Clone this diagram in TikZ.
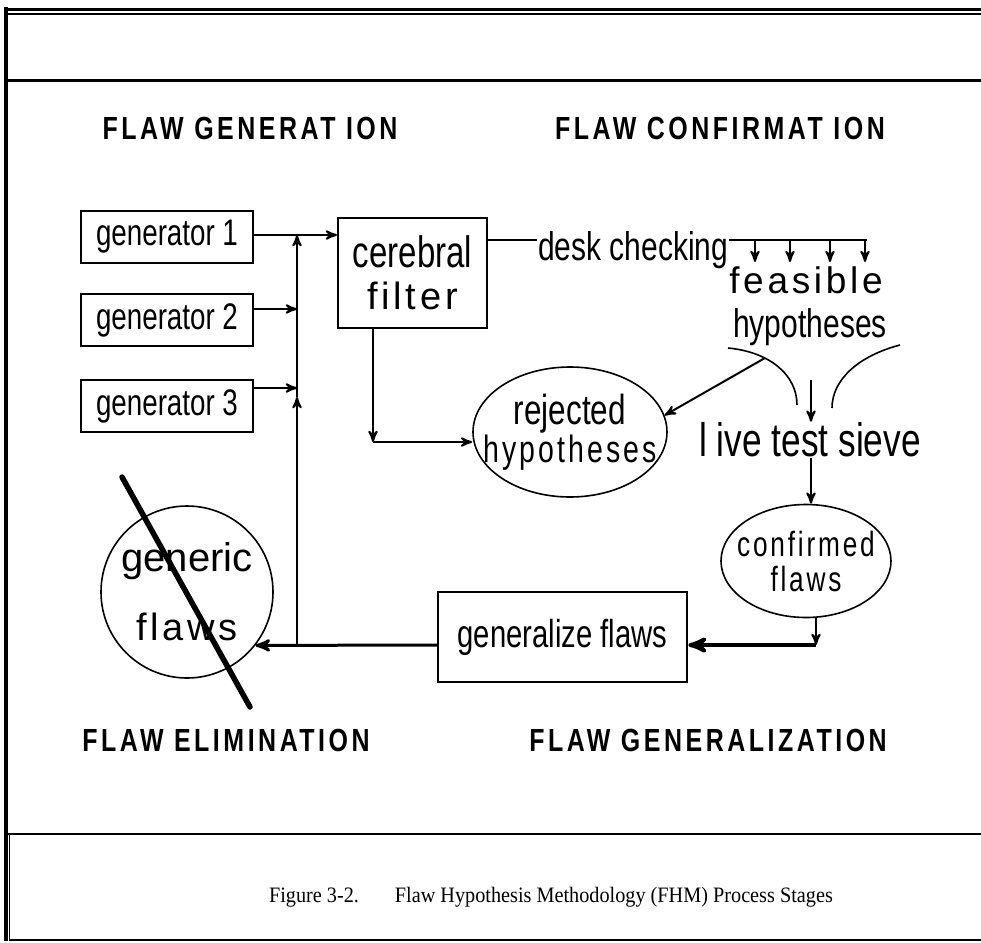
\documentclass[tikz,border=0pt]{standalone}
\usepackage{fontspec}
\setmainfont{Liberation Serif}
\setsansfont{Liberation Sans}
\newfontfamily\narrowfont[FakeStretch=0.75]{Liberation Sans}
\newfontfamily\spacedfont[LetterSpace=10]{Liberation Sans}
\newfontfamily\narrowspaced[FakeStretch=0.75,LetterSpace=8]{Liberation Sans}
\newfontfamily\stagefont[FakeStretch=0.78,LetterSpace=11]{Liberation Sans Bold}
\newfontfamily\captionfont[FakeStretch=0.92]{Liberation Serif}
\usepackage{tikz}
\usetikzlibrary{positioning,arrows,shapes.geometric}
\tikzset{
    >=stealth',
    genbox/.style={
        rectangle,
        draw, line width=1pt,
        minimum width=86pt,
        minimum height=26pt,
        inner sep=0pt,
        font=\narrowfont\fontsize{18.5}{20}\selectfont
    },
    filterbox/.style={
        rectangle,
        draw, line width=1pt,
        minimum width=74.5pt,
        minimum height=55pt,
        inner sep=0pt,
        align=center
    },
    blob/.style={ellipse, draw, line width=0.8pt, inner xsep=-30pt, inner ysep=0pt, align=center},
    stage/.style={inner sep=0pt, font=\stagefont\fontsize{16}{18}\selectfont},
    word/.style={inner sep=0pt},
}
\begin{document}
\begin{tikzpicture}[x=0.5pt, y=-0.5pt, line width=1pt]
    \useasboundingbox (0,0) rectangle (981,943);

    % frame
    \draw[line width=1.5pt] (5,9.5) -- (981,9.5);
    \draw[line width=1pt] (5,14) -- (981,14);
    \draw[line width=1.5pt] (5,80.5) -- (981,80.5);
    \draw[line width=1.3pt] (5,834) -- (981,834);
    \draw[line width=0.75pt] (9,940) -- (981,940);
    \draw[line width=2pt] (5.5,7) -- (5.5,941);
    \draw[line width=0.75pt] (9.5,834) -- (9.5,941);

    % stage titles
    \node[stage] (sgen) at (250,128) {FLAW GENERAT ION};
    \node[stage] (sconf) at (720,128) {FLAW CONFIRMAT ION};
    \node[stage] (selim) at (226,740) {FLAW ELIMINATION};
    \node[stage] (sgenz) at (708,740) {FLAW GENERALIZATION};

    % generators and filter
    \node[genbox] (gen1) at (167,237) {generator 1};
    \node[genbox, below=14.5pt of gen1] (gen2) {generator 2};
    \node[genbox, below=16pt of gen2] (gen3) {generator 3};
    \node[filterbox, font=\narrowfont\fontsize{22}{19}\selectfont] (cb) at (412.5,273)
        {cerebral\\[2pt]{\spacedfont\fontsize{19}{19}\selectfont filter}};

    \coordinate (j1) at (297,235);
    \coordinate (j2) at (297,309);
    \coordinate (j3) at (297,388);
    \coordinate (jup) at (297,397);
    \coordinate (j0) at (297,645);
    \draw[->] (gen1.east |- j1) -- (cb.west |- j1);
    \draw[->] (gen2.east |- j2) -- (j2);
    \draw[->] (gen3.east |- j3) -- (j3);
    \draw[->] (j0) -- (jup);
    \draw[->] (jup) -- (j1);

    % confirmation
    \node[word, anchor=base west, font=\narrowfont\fontsize{20}{20}\selectfont]
        (desk) at (537,260) {desk checking};
    \coordinate (dk) at (867,240);
    \draw (cb.east |- dk) -- (desk.west |- dk);
    \draw (desk.east |- dk) -- (dk);
    \foreach \x in {755,790,830,865}
        \draw[->] (\x,240) -- (\x,262);

    \node[word, anchor=base, font=\spacedfont\fontsize{18.5}{19}\selectfont] (feas) at (806,293) {feasible};
    \node[word, anchor=base, font=\narrowfont\fontsize{20}{21}\selectfont] (hyp) at (810,337) {hypotheses};
    \draw[line width=0.8pt] (728,348) .. controls (770,352) and (797,375) .. (797,405);
    \draw[line width=0.8pt] (900,345) .. controls (858,356) and (832,380) .. (832,408);

    \node[blob, minimum width=97pt, minimum height=65pt, font=\narrowfont\fontsize{21}{18}\selectfont]
        (rej) at (570,432)
        {rejected\\{\narrowspaced\fontsize{19}{18}\selectfont hypotheses}};
    \coordinate (fs) at (765,358);
    \draw[->] (fs) -- (rej.10);
    \coordinate (m) at (373,442);
    \draw[->] (cb.south -| m) -- (m);
    \draw[->] (m) -- (rej.west |- m);

    \node[word, font=\narrowfont\fontsize{23.5}{25}\selectfont] (sieve) at (810,440) {l ive test sieve};
    \coordinate (fn) at (811,380);
    \draw[->] (fn) -- (sieve.north -| fn);

    \node[blob, minimum width=85pt, minimum height=56.5pt,
        font=\narrowspaced\fontsize{17.5}{17.5}\selectfont] (conf) at (806,561)
        {confirmed\\flaws};
    \draw[->] (sieve.south -| fn) -- (conf.north -| fn);

    % generalization and elimination
    \node[rectangle, draw, line width=1.25pt, minimum width=124.5pt, minimum height=45pt,
        font=\narrowfont\fontsize{19.5}{20}\selectfont] (genl) at (562.5,637) {generalize flaws};
    \coordinate (k) at (816,645);
    \draw[->] (conf.south -| k) -- (k);
    \draw[->, line width=2pt] (k) -- (genl.east |- k);

    \node[circle, draw, line width=0.8pt, minimum size=86pt, inner sep=0pt, align=center,
        font=\sffamily\fontsize{20}{34.5}\selectfont] (gc) at (187,592)
        {generic\\{\spacedfont\fontsize{19}{34.5}\selectfont flaws}};
    \draw[->, line width=1.5pt] (genl.west |- j0) -- (gc.-38);
    \coordinate (x1) at (122,477);
    \coordinate (x2) at (250,707);
    \draw[line width=2.75pt, line cap=round] (x1) -- (x2);

    % caption
    \node[word, anchor=west, font=\captionfont\fontsize{11}{12}\selectfont] (cap) at (268,897)
        {Figure 3-2.\hspace{18pt}Flaw Hypothesis Methodology (FHM) Process Stages};
\end{tikzpicture}
\end{document}
